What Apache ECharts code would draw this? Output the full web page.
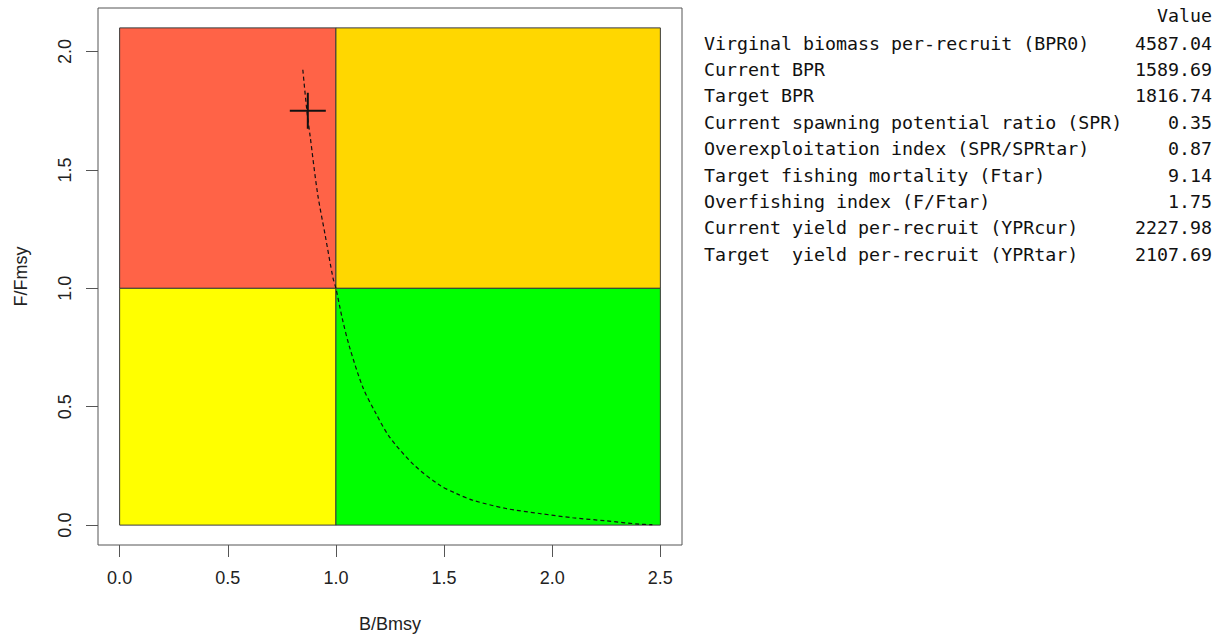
<!DOCTYPE html>
<html>
<head>
<meta charset="utf-8">
<script src="https://cdn.jsdelivr.net/npm/echarts@6/dist/echarts.min.js"></script>
<style>
html,body{margin:0;padding:0;background:#fff;}
#chart{width:1225px;height:637px;}
</style>
</head>
<body>
<div id="chart"></div>
<script>
// ---- data ----
const xTicks = [0, 0.5, 1.0, 1.5, 2.0, 2.5];
const yTicks = [0, 0.5, 1.0, 1.5, 2.0];
const zoneBounds = [      // [B0, F0, B1, F1]
  [0, 1, 1, 2.1],
  [1, 1, 2.5, 2.1],
  [0, 0, 1, 1],
  [1, 0, 2.5, 1]
];
const curveB = [0.847, 0.866, 0.88, 0.915, 0.95, 0.986, 1.0, 1.03, 1.063, 1.124, 1.18, 1.248, 1.36, 1.479, 1.56, 1.633, 1.787, 1.941, 2.095, 2.249, 2.403, 2.463];
const curveF = [1.923, 1.747, 1.648, 1.401, 1.226, 1.046, 1.0, 0.87, 0.752, 0.583, 0.48, 0.372, 0.255, 0.169, 0.132, 0.105, 0.070, 0.049, 0.031, 0.018, 0.004, 0.002];
const currentB = [0.87];
const currentF = [1.75];
const tableHeader = 'Value';
const tableLabels = [
  'Virginal biomass per-recruit (BPR0)',
  'Current BPR',
  'Target BPR',
  'Current spawning potential ratio (SPR)',
  'Overexploitation index (SPR/SPRtar)',
  'Target fishing mortality (Ftar)',
  'Overfishing index (F/Ftar)',
  'Current yield per-recruit (YPRcur)',
  'Target  yield per-recruit (YPRtar)'
];
const tableValues = ['4587.04', '1589.69', '1816.74', '0.35', '0.87', '9.14', '1.75', '2227.98', '2107.69'];

// ---- styles ----
const zoneColors = ['#FF6347', '#FFD700', '#FFFF00', '#00FF00'];
const axisColor = '#555';
const textColor = '#222';
const monoFont = '"DejaVu Sans Mono", "Liberation Mono", monospace';

const chart = echarts.init(document.getElementById('chart'), null, {renderer: 'svg'});

const curveData = curveB.map((b, i) => [b, curveF[i]]);
const pointData = currentB.map((b, i) => [b, currentF[i]]);

const graphics = [];
const rowStep = 26.4;
graphics.push({type: 'text', right: 13, top: 6,
  style: {text: tableHeader, font: '18.3px ' + monoFont, fill: '#111'}});
tableLabels.forEach((lab, i) => {
  const y = 34 + rowStep * i;
  graphics.push({type: 'text', left: 704, top: y, style: {text: lab, font: '18.3px ' + monoFont, fill: '#111', whiteSpace: 'pre'}});
  graphics.push({type: 'text', right: 13, top: y, style: {text: tableValues[i], font: '18.3px ' + monoFont, fill: '#111'}});
});

const option = {
  backgroundColor: '#fff',
  animation: false,
  grid: {left: 98, top: 8, width: 584, height: 537, show: true, borderColor: axisColor, borderWidth: 1, backgroundColor: 'transparent', outerBoundsMode: 'none'},
  xAxis: {
    type: 'value', min: -0.1, max: 2.6,
    name: 'B/Bmsy', nameLocation: 'middle', nameGap: 70,
    nameTextStyle: {fontFamily: 'Liberation Sans', fontSize: 18, color: textColor},
    axisLine: {show: false, onZero: false},
    splitLine: {show: false},
    axisTick: {show: true, length: 12, customValues: xTicks, lineStyle: {color: axisColor}},
    axisLabel: {customValues: xTicks, formatter: v => v.toFixed(1), margin: 24,
      fontFamily: 'Liberation Sans', fontSize: 18, color: textColor}
  },
  yAxis: {
    type: 'value', min: -0.084, max: 2.184,
    name: 'F/Fmsy', nameLocation: 'middle', nameGap: 68, nameRotate: 90,
    nameTextStyle: {fontFamily: 'Liberation Sans', fontSize: 18, color: textColor},
    axisLine: {show: false, onZero: false},
    splitLine: {show: false},
    axisTick: {show: true, length: 12, customValues: yTicks, lineStyle: {color: axisColor}},
    axisLabel: {customValues: yTicks, formatter: v => v.toFixed(1), rotate: 90, margin: 24,
      align: 'center', verticalAlign: 'bottom',
      fontFamily: 'Liberation Sans', fontSize: 18, color: textColor}
  },
  series: [
    {
      type: 'custom', z: 1, silent: true,
      data: zoneBounds,
      encode: {x: [0, 2], y: [1, 3]},
      renderItem: function (params, api) {
        const p0 = api.coord([api.value(0), api.value(1)]);
        const p1 = api.coord([api.value(2), api.value(3)]);
        return {type: 'rect',
          shape: {x: p0[0], y: p1[1], width: p1[0] - p0[0], height: p0[1] - p1[1]},
          style: {fill: zoneColors[params.dataIndex], stroke: '#3a3a3a', lineWidth: 1}};
      }
    },
    {
      type: 'line', z: 3, silent: true, data: curveData, showSymbol: false, smooth: 0.3,
      lineStyle: {color: '#111', width: 1.2, type: [4, 3]}
    },
    {
      type: 'custom', z: 4, silent: true, data: pointData,
      renderItem: function (params, api) {
        const c = api.coord([api.value(0), api.value(1)]);
        const h = 18;
        return {type: 'group', children: [
          {type: 'line', shape: {x1: c[0] - h, y1: c[1], x2: c[0] + h, y2: c[1]}, style: {stroke: '#111', lineWidth: 2}},
          {type: 'line', shape: {x1: c[0], y1: c[1] - h, x2: c[0], y2: c[1] + h}, style: {stroke: '#111', lineWidth: 2}}
        ]};
      }
    }
  ],
  graphic: graphics
};
chart.setOption(option);
</script>
</body>
</html>
